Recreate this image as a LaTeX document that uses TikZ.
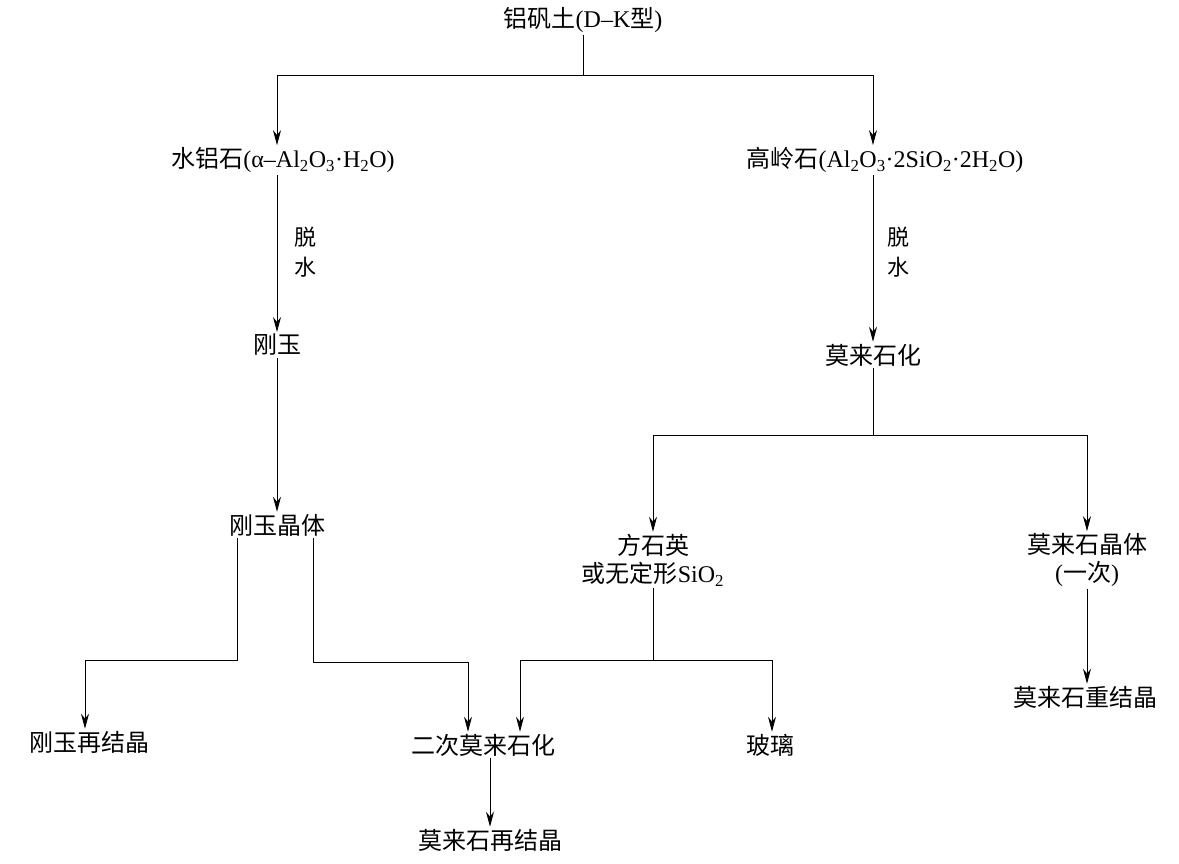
\documentclass[tikz,border=0pt]{standalone}
\usepackage{fontspec}
\setmainfont{Liberation Serif}
\newfontfamily\cjk{Noto Sans CJK SC}
\usetikzlibrary{arrows.meta}
\newcommand{\sub}[1]{\textsubscript{#1}}
\begin{document}
\begin{tikzpicture}[x=1pt,y=-1pt,
    every node/.style={font=\fontsize{24}{28}\selectfont,inner sep=2pt},
    arr/.style={-{Stealth[length=15pt,width=8pt]},line width=0.9pt},
    ln/.style={line width=0.9pt}]
  \useasboundingbox (0,0) rectangle (1179,864);
  % nodes
  \node (top) at (583,20) {{\cjk 铝矾土}(D–K{\cjk 型})};
  \node (dia) at (283,160) {{\cjk 水铝石}(α–Al\sub{2}O\sub{3}·H\sub{2}O)};
  \node (kao) at (885,160) {{\cjk 高岭石}(Al\sub{2}O\sub{3}·2SiO\sub{2}·2H\sub{2}O)};
  \node (cor) at (277,345) {\cjk 刚玉};
  \node (mul) at (873,355) {\cjk 莫来石化};
  \node (corx) at (277,525) {\cjk 刚玉晶体};
  \node[align=center] (cri) at (653,560) {{\cjk 方石英}\\{\cjk 或无定形}SiO\sub{2}};
  \node[align=center] (mulx) at (1087,560) {{\cjk 莫来石晶体}\\({\cjk 一次})};
  \node (corr) at (90,742) {\cjk 刚玉再结晶};
  \node (smul) at (483,745) {\cjk 二次莫来石化};
  \node (gla) at (770,745) {\cjk 玻璃};
  \node (mulr) at (1085,697) {\cjk 莫来石重结晶};
  \node (mulrr) at (490,840) {\cjk 莫来石再结晶};
  % labels
  \node[align=center,font=\fontsize{22}{30}\selectfont\cjk] (d1) at (305,252) {脱\\水};
  \node[align=center,font=\fontsize{22}{30}\selectfont\cjk] (d2) at (898,252) {脱\\水};
  % junctions
  \coordinate (j1) at (583,75);
  \coordinate (j2) at (873,435);
  \coordinate (j3) at (653,660);
  % connectors
  \draw[ln] (top) -- (j1);
  \draw[arr] (j1) -| (dia.north -| 277,0);
  \draw[arr] (j1) -| (kao.north -| 873,0);
  \draw[arr] (dia.south -| 277,0) -- (cor);
  \draw[arr] (kao.south -| 873,0) -- (mul);
  \draw[arr] (cor) -- (corx);
  \draw[ln] (mul) -- (j2);
  \draw[arr] (j2) -| (cri);
  \draw[arr] (j2) -| (mulx);
  \draw[arr] (corx.south -| 237,0) |- (85,660) -- (corr.north -| 85,0);
  \draw[arr] (corx.south -| 313,0) |- (468,662) -- (smul.north -| 468,0);
  \draw[ln] (cri) -- (j3);
  \draw[arr] (j3) -| (smul.north -| 520,0);
  \draw[arr] (j3) -| (gla.north -| 772,0);
  \draw[arr] (mulx) -- (mulr.north -| 1087,0);
  \draw[arr] (smul.south -| 490,0) -- (mulrr);
\end{tikzpicture}
\end{document}
